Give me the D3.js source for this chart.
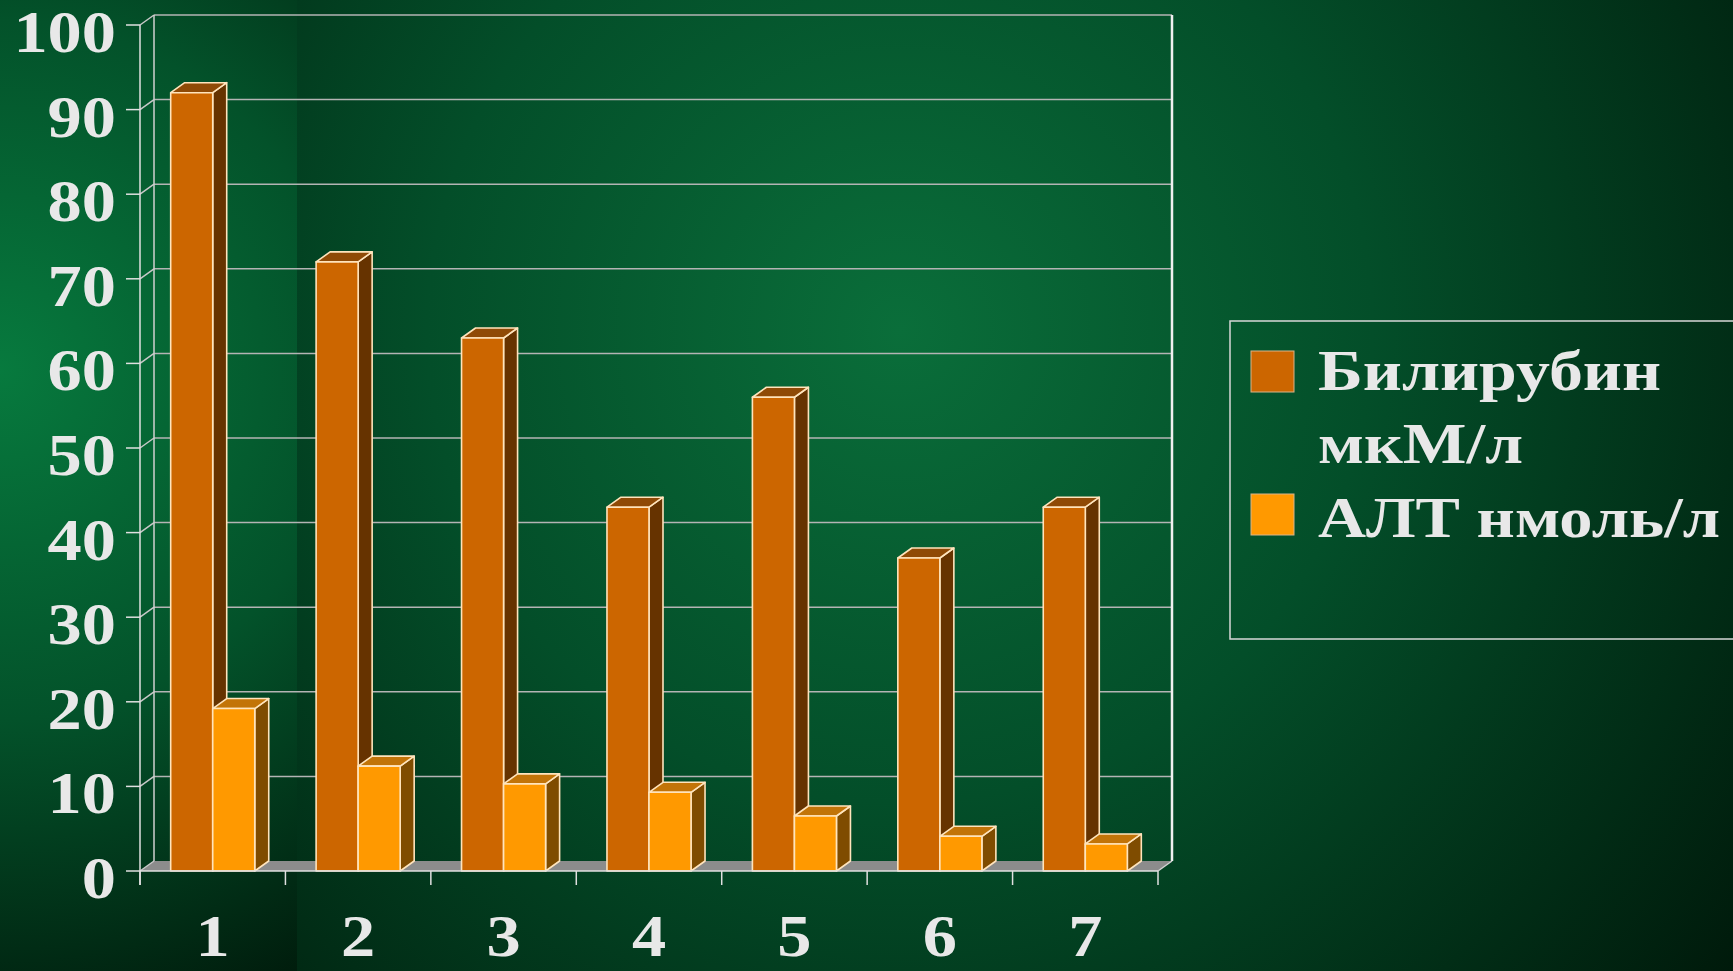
<!DOCTYPE html>
<html>
<head>
<meta charset="utf-8">
<script src="https://cdn.jsdelivr.net/npm/d3@7"></script>
<style>
  html, body { margin: 0; padding: 0; background: #00200e; overflow: hidden; }
</style>
</head>
<body>
<div id="chart"></div>
<script>
// Data
const categories = ['1', '2', '3', '4', '5', '6', '7'];
const seriesNames = ['Билирубин мкМ/л', 'АЛТ нмоль/л'];
const bilirubin = [92, 72, 63, 43, 56, 37, 43];
const alt = [19.2, 12.4, 10.3, 9.3, 6.5, 4.1, 3.2];
const yTicks = [0, 10, 20, 30, 40, 50, 60, 70, 80, 90, 100];
const legendLines = [['Билирубин', 'мкМ/л'], ['АЛТ нмоль/л']];

const seriesColors = [
  { front: '#cc6600', side: '#663300', top: '#8f4a06' },
  { front: '#ff9900', side: '#7f4c00', top: '#c27408' }
];

const fontFamily = '"Liberation Serif", "Times New Roman", Times, serif';
const width = 1733, height = 971;
const depth = { dx: 14, dy: -10 };

const svg = d3.select('#chart').append('svg')
  .attr('width', width)
  .attr('height', height);

// Background
const defs = svg.append('defs');
const bgMain = defs.append('radialGradient')
  .attr('id', 'bgMain')
  .attr('gradientUnits', 'userSpaceOnUse')
  .attr('cx', 900).attr('cy', 330).attr('r', 1050);
bgMain.append('stop').attr('offset', 0).attr('stop-color', '#0a6e3a');
bgMain.append('stop').attr('offset', 0.45).attr('stop-color', '#034e29');
bgMain.append('stop').attr('offset', 1).attr('stop-color', '#001a0b');

const bgLeft = defs.append('radialGradient')
  .attr('id', 'bgLeft')
  .attr('gradientUnits', 'userSpaceOnUse')
  .attr('cx', 0).attr('cy', 370).attr('r', 700);
bgLeft.append('stop').attr('offset', 0).attr('stop-color', '#077a3e');
bgLeft.append('stop').attr('offset', 0.5).attr('stop-color', '#03522a');
bgLeft.append('stop').attr('offset', 1).attr('stop-color', '#00180a');

svg.append('rect').attr('width', width).attr('height', height).attr('fill', 'url(#bgMain)');
svg.append('rect').attr('width', 297).attr('height', height).attr('fill', 'url(#bgLeft)');

// Scales
const y = d3.scaleLinear().domain([0, 100]).range([871, 25]);
const x0 = d3.scaleBand().domain(categories).range([140, 1158]);
const x1 = d3.scaleBand().domain(seriesNames).range([0, x0.bandwidth()]).paddingOuter(0.73);

const left = x0.range()[0], right = x0.range()[1];
const y0 = y(0);

// Back wall and floor
const wall = svg.append('g');
wall.append('polygon')
  .attr('points', [[left, y0], [right, y0], [right + depth.dx, y0 + depth.dy], [left + depth.dx, y0 + depth.dy]].join(' '))
  .attr('fill', '#8c8c8c');

wall.selectAll('line.grid')
  .data(yTicks.filter(d => d > 0))
  .join('line')
  .attr('class', 'grid')
  .attr('x1', left + depth.dx).attr('x2', right + depth.dx)
  .attr('y1', d => y(d) + depth.dy).attr('y2', d => y(d) + depth.dy)
  .attr('stroke', '#b4b4b4').attr('stroke-width', 1.5);

wall.selectAll('line.side')
  .data(yTicks)
  .join('line')
  .attr('class', 'side')
  .attr('x1', left).attr('x2', left + depth.dx)
  .attr('y1', d => y(d)).attr('y2', d => y(d) + depth.dy)
  .attr('stroke', '#c8c8c8').attr('stroke-width', 1.5);

wall.append('line')
  .attr('x1', left + depth.dx).attr('x2', left + depth.dx)
  .attr('y1', y(100) + depth.dy).attr('y2', y0 + depth.dy)
  .attr('stroke', '#d0d0d0').attr('stroke-width', 1.5);
wall.append('line')
  .attr('x1', right + depth.dx).attr('x2', right + depth.dx)
  .attr('y1', y(100) + depth.dy).attr('y2', y0 + depth.dy)
  .attr('stroke', '#f0f0f0').attr('stroke-width', 2.5);
wall.append('line')
  .attr('x1', right).attr('x2', right + depth.dx)
  .attr('y1', y0).attr('y2', y0 + depth.dy)
  .attr('stroke', '#d0d0d0').attr('stroke-width', 1.5);

// Bars
const rows = categories.map((c, i) => ({ cat: c, values: [bilirubin[i], alt[i]] }));

const barGroups = svg.append('g').selectAll('g')
  .data(rows)
  .join('g')
  .attr('transform', d => `translate(${x0(d.cat)},0)`);

barGroups.selectAll('g')
  .data(d => d.values.map((v, k) => ({ v, k, name: seriesNames[k] })))
  .join('g')
  .attr('stroke', '#ffe4bc')
  .attr('stroke-width', 1.6)
  .attr('stroke-linejoin', 'round')
  .each(function (d) {
    const g = d3.select(this);
    const bx = x1(d.name), bw = x1.bandwidth(), yt = y(d.v);
    const col = seriesColors[d.k];
    g.append('polygon')
      .attr('points', [[bx + bw, yt], [bx + bw + depth.dx, yt + depth.dy], [bx + bw + depth.dx, y0 + depth.dy], [bx + bw, y0]].join(' '))
      .attr('fill', col.side);
    g.append('polygon')
      .attr('points', [[bx, yt], [bx + depth.dx, yt + depth.dy], [bx + bw + depth.dx, yt + depth.dy], [bx + bw, yt]].join(' '))
      .attr('fill', col.top);
    g.append('rect')
      .attr('x', bx).attr('y', yt)
      .attr('width', bw).attr('height', y0 - yt)
      .attr('fill', col.front);
  });

// Axes
const axes = svg.append('g');
axes.append('line')
  .attr('x1', left).attr('x2', left)
  .attr('y1', y(100)).attr('y2', y0 + 14)
  .attr('stroke', '#e0e0e0').attr('stroke-width', 1.5);
axes.append('line')
  .attr('x1', left).attr('x2', right)
  .attr('y1', y0).attr('y2', y0)
  .attr('stroke', '#e0e0e0').attr('stroke-width', 1.5);

axes.selectAll('line.ytick')
  .data(yTicks)
  .join('line')
  .attr('class', 'ytick')
  .attr('x1', left - 14).attr('x2', left)
  .attr('y1', d => y(d)).attr('y2', d => y(d))
  .attr('stroke', '#e0e0e0').attr('stroke-width', 1.5);

const xBounds = categories.map(c => x0(c)).concat([right]);
axes.selectAll('line.xtick')
  .data(xBounds)
  .join('line')
  .attr('class', 'xtick')
  .attr('x1', d => d).attr('x2', d => d)
  .attr('y1', y0).attr('y2', y0 + 14)
  .attr('stroke', '#e0e0e0').attr('stroke-width', 1.5);

axes.selectAll('text.ylabel')
  .data(yTicks)
  .join('text')
  .attr('class', 'ylabel')
  .attr('transform', d => `translate(116, ${y(d) + 27}) scale(1.14, 1)`)
  .attr('text-anchor', 'end')
  .attr('font-family', fontFamily)
  .attr('font-weight', 'bold')
  .attr('font-size', 60)
  .attr('fill', '#e8e8e8')
  .text(d => d);

axes.selectAll('text.xlabel')
  .data(categories)
  .join('text')
  .attr('class', 'xlabel')
  .attr('transform', d => `translate(${x0(d) + x0.bandwidth() / 2}, 956) scale(1.14, 1)`)
  .attr('text-anchor', 'middle')
  .attr('font-family', fontFamily)
  .attr('font-weight', 'bold')
  .attr('font-size', 60)
  .attr('fill', '#e8e8e8')
  .text(d => d);

// Legend
const legend = svg.append('g');
legend.append('rect')
  .attr('x', 1230).attr('y', 321)
  .attr('width', 540).attr('height', 318)
  .attr('fill', 'none')
  .attr('stroke', '#d8d8d8').attr('stroke-width', 1.5);

const legendY = [351, 494];
const baselines = [[390, 463], [537]];
const textWidths = [[343, 205], [402]];

seriesNames.forEach((name, k) => {
  legend.append('rect')
    .attr('x', 1251).attr('y', legendY[k])
    .attr('width', 43).attr('height', 41)
    .attr('fill', seriesColors[k].front)
    .attr('stroke', '#d9b48a').attr('stroke-width', 1);
  legendLines[k].forEach((line, j) => {
    legend.append('text')
      .attr('x', 1318).attr('y', baselines[k][j])
      .attr('font-family', fontFamily)
      .attr('font-weight', 'bold')
      .attr('font-size', 58)
      .attr('fill', '#e8e8e8')
      .attr('textLength', textWidths[k][j])
      .attr('lengthAdjust', 'spacingAndGlyphs')
      .text(line);
  });
});
</script>
</body>
</html>
